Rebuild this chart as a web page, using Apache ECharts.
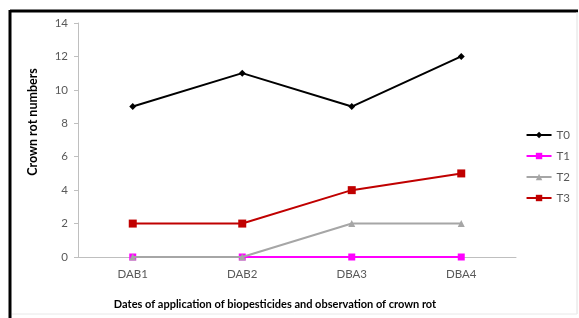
<!DOCTYPE html>
<html><head><meta charset="utf-8">
<script src="https://cdn.jsdelivr.net/npm/echarts@6/dist/echarts.min.js"></script>
<style>html,body{margin:0;padding:0;background:#fff}#c{width:579px;height:318px}</style>
</head><body><div id="c"></div>
<script>
var categories = ['DAB1', 'DAB2', 'DBA3', 'DBA4'];
var t0 = [9, 11, 9, 12];
var t1 = [0, 0, 0, 0];
var t2 = [0, 0, 2, 2];
var t3 = [2, 2, 4, 5];
var seriesNames = ['T0', 'T1', 'T2', 'T3'];
var yTicks = [0, 2, 4, 6, 8, 10, 12, 14];

var FONT = 'Lato';
var chart = echarts.init(document.getElementById('c'), null, {renderer: 'canvas'});
function mk(name, data, color, symbol, size, z) {
  return {name: name, type: 'line', data: data, symbol: symbol, symbolSize: size,
    lineStyle: {color: color, width: 2}, itemStyle: {color: color}, z: z, animation: false};
}
chart.setOption({
  animation: false,
  grid: {left: 78, right: 63, top: 23, bottom: 61},
  xAxis: {type: 'category', data: categories, boundaryGap: true,
    axisLine: {lineStyle: {color: '#bfbfbf', width: 1}}, axisTick: {show: false},
    axisLabel: {color: '#595959', fontFamily: FONT, fontSize: 11.5, margin: 11}},
  yAxis: {type: 'value', min: yTicks[0], max: yTicks[yTicks.length - 1], interval: 2,
    axisLine: {show: true, lineStyle: {color: '#bfbfbf'}},
    axisTick: {show: true, length: 4, lineStyle: {color: '#bfbfbf'}},
    splitLine: {show: false},
    axisLabel: {color: '#595959', fontFamily: FONT, fontSize: 11.5, margin: 10}},
  legend: {orient: 'vertical', right: 4, top: 124, itemGap: 9, itemWidth: 25, itemHeight: 8,
    textStyle: {fontFamily: FONT, fontSize: 11.5, color: '#595959'},
    data: seriesNames},
  series: [
    mk(seriesNames[0], t0, '#000000', 'diamond', 7, 2),
    mk(seriesNames[1], t1, '#ff00ff', 'rect', 7, 3),
    mk(seriesNames[2], t2, '#a6a6a6', 'triangle', 7, 4),
    mk(seriesNames[3], t3, '#c00000', 'rect', 8, 5)
  ],
  graphic: [
    {type: 'line', shape: {x1: 10, y1: 11, x2: 578, y2: 11}, style: {stroke: '#000', lineWidth: 3}},
    {type: 'line', shape: {x1: 10, y1: 10, x2: 10, y2: 318}, style: {stroke: '#000', lineWidth: 3}},
    {type: 'line', shape: {x1: 577, y1: 12, x2: 577, y2: 314}, style: {stroke: '#e0e0e0', lineWidth: 1}},
    {type: 'line', shape: {x1: 12, y1: 314, x2: 577, y2: 314}, style: {stroke: '#e8e8e8', lineWidth: 1}},
    {type: 'text', x: 275, y: 304, style: {text: 'Dates of application of biopesticides and observation of crown rot',
      font: 'bold 11px Lato', fill: '#000', align: 'center', verticalAlign: 'middle'}},
    {type: 'text', x: 33, y: 122, rotation: Math.PI / 2, style: {text: 'Crown rot numbers',
      font: 'bold 12.5px Lato', fill: '#000', align: 'center', verticalAlign: 'middle'}}
  ]
});
</script></body></html>
